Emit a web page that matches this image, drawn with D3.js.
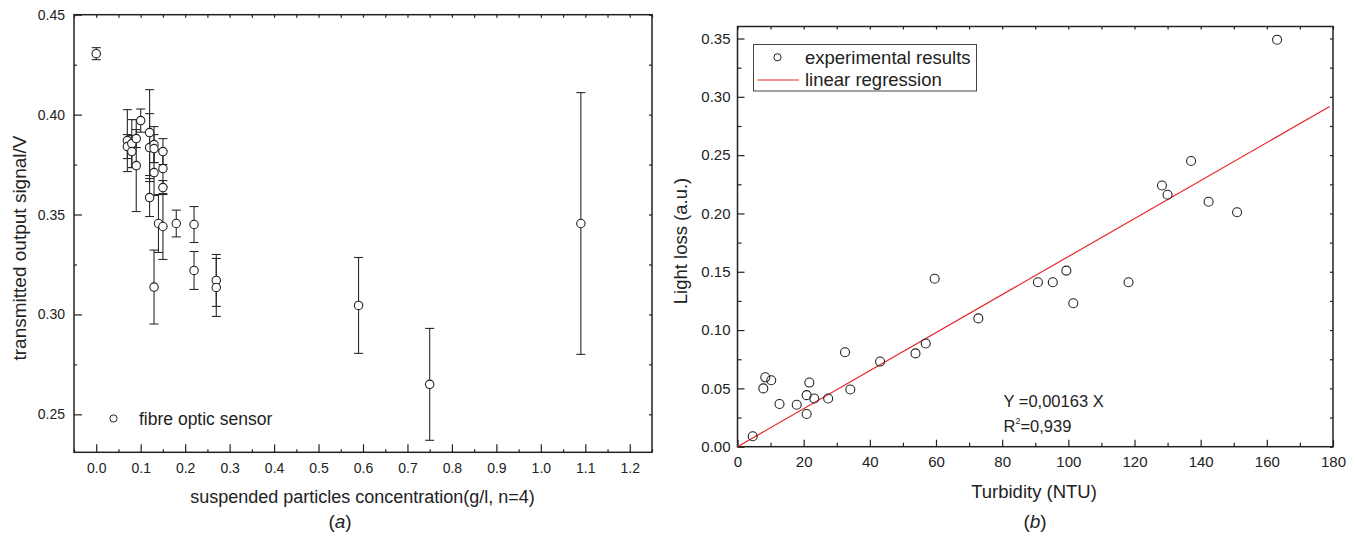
<!DOCTYPE html>
<html>
<head>
<meta charset="utf-8">
<script src="https://cdn.jsdelivr.net/npm/d3@7"></script>
<style>
  body { margin: 0; background: #fff; }
  svg { font-family: "Liberation Sans", Arial, Helvetica, sans-serif; }
  .axis path { display: none; }
  .axis line { stroke: #222; stroke-width: 1.2; }
  .axis text { fill: #222; }
</style>
</head>
<body>
<div id="chart"></div>
<script>
// ---- panel (a): fibre optic sensor, mean +/- error (n=4)
var concA = [0, 0.07, 0.07, 0.08, 0.08, 0.09, 0.09, 0.10, 0.12, 0.12, 0.12, 0.13, 0.13, 0.13, 0.13,
             0.14, 0.15, 0.15, 0.15, 0.15, 0.18, 0.22, 0.22, 0.27, 0.27, 0.59, 0.75, 1.09];
var signalA = [0.4305, 0.387, 0.384, 0.3855, 0.3815, 0.388, 0.3745, 0.397, 0.391, 0.3835, 0.3585, 0.385, 0.383, 0.371, 0.3137,
               0.3455, 0.3815, 0.373, 0.3635, 0.344, 0.3455, 0.345, 0.322, 0.317, 0.3135, 0.3045, 0.265, 0.3455];
var errA = [0.003, 0.0155, 0.006, 0.012, 0.008, 0.0045, 0.023, 0.0058, 0.0215, 0.017, 0.0095, 0.009, 0.007, 0.0115, 0.0185,
            0.0145, 0.0065, 0.009, 0.0035, 0.0165, 0.0067, 0.009, 0.0095, 0.013, 0.0145, 0.024, 0.028, 0.0655];
var xTicksA = [0, 0.1, 0.2, 0.3, 0.4, 0.5, 0.6, 0.7, 0.8, 0.9, 1.0, 1.1, 1.2];
var yTicksA = [0.25, 0.30, 0.35, 0.40, 0.45];

// ---- panel (b): light loss vs turbidity
var turbB = [4.6, 7.8, 8.4, 10.2, 12.7, 17.9, 20.9, 20.9, 21.7, 23.2, 27.4, 32.5, 34.1, 43.1, 53.8,
             56.9, 59.6, 72.8, 90.8, 95.3, 99.4, 101.5, 118.2, 128.3, 130.0, 137.1, 142.4, 151.0, 163.1];
var lossB = [0.009, 0.050, 0.0595, 0.057, 0.0366, 0.036, 0.0442, 0.028, 0.055, 0.0413, 0.0413, 0.081, 0.049, 0.073, 0.080,
             0.0885, 0.144, 0.110, 0.141, 0.141, 0.151, 0.123, 0.141, 0.224, 0.216, 0.245, 0.210, 0.201, 0.349];
var slopeB = 0.00163;
var fitTurbB = [0, 179];
var xTicksB = [0, 20, 40, 60, 80, 100, 120, 140, 160, 180];
var yTicksB = [0, 0.05, 0.10, 0.15, 0.20, 0.25, 0.30, 0.35];

var width = 1355, height = 539;
var ink = "#222";

var svg = d3.select("#chart")
  .append("svg")
  .attr("width", width)
  .attr("height", height);

// draws inward ticks on all four sides of a frame, plus minor ticks
function drawFrame(x, y, opt) {
  var x0 = x.range()[0], x1 = x.range()[1], y0 = y.range()[0], y1 = y.range()[1];
  var g = svg.append("g");

  g.append("g").attr("class", "axis")
    .attr("transform", "translate(0," + y0 + ")")
    .call(d3.axisBottom(x).tickValues(opt.xMinor).tickSize(-opt.minor).tickFormat(""));
  g.append("g").attr("class", "axis")
    .attr("transform", "translate(" + x0 + ",0)")
    .call(d3.axisLeft(y).tickValues(opt.yMinor).tickSize(-opt.minor).tickFormat(""));

  g.append("g").attr("class", "axis")
    .attr("transform", "translate(0," + y0 + ")")
    .style("font-size", opt.font + "px")
    .call(d3.axisBottom(x).tickValues(opt.xTicks).tickSize(-opt.major).tickPadding(opt.xPad).tickFormat(opt.xFmt));
  g.append("g").attr("class", "axis")
    .attr("transform", "translate(" + x0 + ",0)")
    .style("font-size", opt.font + "px")
    .call(d3.axisLeft(y).tickValues(opt.yTicks).tickSize(-opt.major).tickPadding(opt.yPad).tickFormat(opt.yFmt));

  // top and right: short ticks, no labels
  g.append("g").attr("class", "axis")
    .attr("transform", "translate(0," + y1 + ")")
    .call(d3.axisTop(x).tickValues(opt.xMinor.concat(opt.xTicks)).tickSize(-3).tickFormat(""));
  g.append("g").attr("class", "axis")
    .attr("transform", "translate(" + x1 + ",0)")
    .call(d3.axisRight(y).tickValues(opt.yMinor.concat(opt.yTicks)).tickSize(-3).tickFormat(""));

  g.selectAll(".axis text").attr("fill", ink);

  g.append("rect")
    .attr("x", x0).attr("y", y1)
    .attr("width", x1 - x0).attr("height", y0 - y1)
    .attr("fill", "none")
    .attr("stroke", ink)
    .attr("stroke-width", 1.5);
}

// ================= panel (a)
var xA = d3.scaleLinear().domain([-0.05, 1.25]).range([74, 652]);
var yA = d3.scaleLinear().domain([0.231, 0.45]).range([452.3, 14.7]);

drawFrame(xA, yA, {
  xTicks: xTicksA, yTicks: yTicksA,
  xMinor: [-0.05, 0.05, 0.15, 0.25, 0.35, 0.45, 0.55, 0.65, 0.75, 0.85, 0.95, 1.05, 1.15, 1.25],
  yMinor: [0.275, 0.325, 0.375, 0.425],
  major: 8, minor: 3, font: 14, xPad: 11, yPad: 9,
  xFmt: d3.format(".1f"), yFmt: d3.format(".2f")
});

var pointsA = concA.map(function(c, i) {
  return { x: c, y: signalA[i], e: errA[i] };
});

var errG = svg.append("g")
  .attr("stroke", "#2a2a2a")
  .attr("stroke-width", 1.1)
  .attr("fill", "none");

errG.selectAll("line.bar")
  .data(pointsA)
  .enter().append("line")
  .attr("class", "bar")
  .attr("x1", function(d) { return xA(d.x); })
  .attr("x2", function(d) { return xA(d.x); })
  .attr("y1", function(d) { return yA(d.y + d.e); })
  .attr("y2", function(d) { return yA(d.y - d.e); });

errG.selectAll("line.capTop")
  .data(pointsA)
  .enter().append("line")
  .attr("class", "capTop")
  .attr("x1", function(d) { return xA(d.x) - 4.5; })
  .attr("x2", function(d) { return xA(d.x) + 4.5; })
  .attr("y1", function(d) { return yA(d.y + d.e); })
  .attr("y2", function(d) { return yA(d.y + d.e); });

errG.selectAll("line.capBot")
  .data(pointsA)
  .enter().append("line")
  .attr("class", "capBot")
  .attr("x1", function(d) { return xA(d.x) - 4.5; })
  .attr("x2", function(d) { return xA(d.x) + 4.5; })
  .attr("y1", function(d) { return yA(d.y - d.e); })
  .attr("y2", function(d) { return yA(d.y - d.e); });

svg.append("g").selectAll("circle")
  .data(pointsA)
  .enter().append("circle")
  .attr("cx", function(d) { return xA(d.x); })
  .attr("cy", function(d) { return yA(d.y); })
  .attr("r", 4.2)
  .attr("fill", "#fff")
  .attr("stroke", ink)
  .attr("stroke-width", 1.1);

// legend (a)
svg.append("circle")
  .attr("cx", 113.5).attr("cy", 418.5).attr("r", 3.6)
  .attr("fill", "#fff").attr("stroke", ink).attr("stroke-width", 1);
svg.append("text")
  .attr("x", 139).attr("y", 425)
  .attr("font-size", 17.5).attr("fill", ink)
  .text("fibre optic sensor");

// titles (a)
svg.append("text")
  .attr("x", 362.5).attr("y", 503)
  .attr("text-anchor", "middle")
  .attr("font-size", 18).attr("fill", ink)
  .text("suspended particles concentration(g/l, n=4)");

svg.append("text")
  .attr("transform", "translate(26,248) rotate(-90)")
  .attr("text-anchor", "middle")
  .attr("font-size", 19).attr("fill", ink)
  .text("transmitted output signal/V");

svg.append("text")
  .attr("x", 340).attr("y", 528)
  .attr("text-anchor", "middle")
  .attr("font-size", 19).attr("fill", ink)
  .html('(<tspan font-style="italic">a</tspan>)');

// ================= panel (b)
var xB = d3.scaleLinear().domain([0, 180]).range([737.5, 1333]);
var yB = d3.scaleLinear().domain([0, 0.3603]).range([446.7, 26.5]);

drawFrame(xB, yB, {
  xTicks: xTicksB, yTicks: yTicksB,
  xMinor: [10, 30, 50, 70, 90, 110, 130, 150, 170],
  yMinor: [0.025, 0.075, 0.125, 0.175, 0.225, 0.275, 0.325],
  major: 7, minor: 4, font: 15, xPad: 10, yPad: 7,
  xFmt: d3.format("d"), yFmt: d3.format(".2f")
});

// regression line
var fitLine = d3.line()
  .x(function(d) { return xB(d); })
  .y(function(d) { return yB(slopeB * d); });

svg.append("path")
  .datum(fitTurbB)
  .attr("d", fitLine)
  .attr("fill", "none")
  .attr("stroke", "#e8262b")
  .attr("stroke-width", 1.2);

svg.append("g").selectAll("circle")
  .data(turbB)
  .enter().append("circle")
  .attr("cx", function(d) { return xB(d); })
  .attr("cy", function(d, i) { return yB(lossB[i]); })
  .attr("r", 4.5)
  .attr("fill", "none")
  .attr("stroke", ink)
  .attr("stroke-width", 1.1);

// legend (b)
var legB = svg.append("g");
legB.append("rect")
  .attr("x", 753.5).attr("y", 44.5).attr("width", 223).attr("height", 46.5)
  .attr("fill", "#fff").attr("stroke", "#444").attr("stroke-width", 1);
legB.append("circle")
  .attr("cx", 777.5).attr("cy", 57.3).attr("r", 3.6)
  .attr("fill", "none").attr("stroke", ink).attr("stroke-width", 1);
legB.append("line")
  .attr("x1", 757.5).attr("x2", 799).attr("y1", 80).attr("y2", 80)
  .attr("stroke", "#e8262b").attr("stroke-width", 1.2);
legB.append("text")
  .attr("x", 805).attr("y", 64)
  .attr("font-size", 18.5).attr("fill", ink)
  .text("experimental results");
legB.append("text")
  .attr("x", 805).attr("y", 86)
  .attr("font-size", 18.5).attr("fill", ink)
  .text("linear regression");

// equation
svg.append("text")
  .attr("x", 1003.5).attr("y", 407)
  .attr("font-size", 16.5).attr("fill", ink)
  .text("Y =0,00163 X");
svg.append("text")
  .attr("x", 1003.5).attr("y", 432)
  .attr("font-size", 16.5).attr("fill", ink)
  .html('R<tspan font-size="9" dy="-8">2</tspan><tspan dy="8">=0,939</tspan>');

// titles (b)
svg.append("text")
  .attr("x", 1034).attr("y", 498)
  .attr("text-anchor", "middle")
  .attr("font-size", 18.5).attr("fill", ink)
  .text("Turbidity (NTU)");

svg.append("text")
  .attr("transform", "translate(687,241) rotate(-90)")
  .attr("text-anchor", "middle")
  .attr("font-size", 18.5).attr("fill", ink)
  .text("Light loss (a.u.)");

svg.append("text")
  .attr("x", 1035).attr("y", 528)
  .attr("text-anchor", "middle")
  .attr("font-size", 19).attr("fill", ink)
  .html('(<tspan font-style="italic">b</tspan>)');
</script>
</body>
</html>
